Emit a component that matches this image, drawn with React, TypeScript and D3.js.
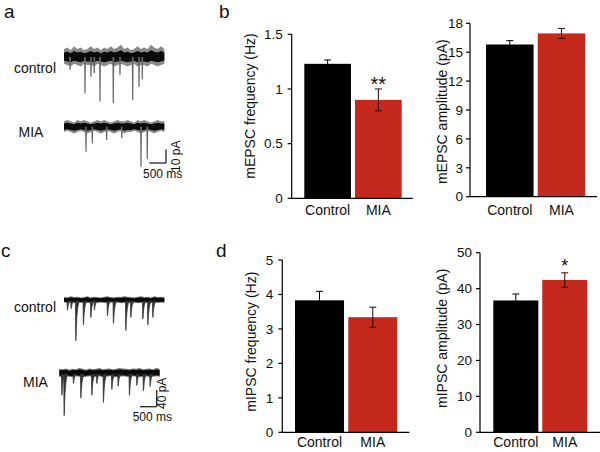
import React from "react";
import * as d3 from "d3";

// ---------- DATA ----------
const categories = ["Control", "MIA"];

const mepscFreq = [1.23, 0.9];
const mepscFreqErr = [0.035, 0.1];
const mepscAmp = [15.8, 16.95];
const mepscAmpErr = [0.4, 0.52];
const mipscFreq = [3.83, 3.34];
const mipscFreqErr = [0.26, 0.29];
const mipscAmp = [36.7, 42.4];
const mipscAmpErr = [1.8, 2.0];

const ticksMepscFreq = [0, 0.5, 1, 1.5];
const ticksMepscAmp = [0, 3, 6, 9, 12, 15, 18];
const ticksMipscFreq = [0, 1, 2, 3, 4, 5];
const ticksMipscAmp = [0, 10, 20, 30, 40, 50];

// trace noise envelope sample times (ms)
const envTimes = [0, 100, 200, 300, 400, 500, 600, 700, 800, 900, 1000, 1100, 1200, 1300, 1400, 1500, 1600, 1700, 1800, 1900, 2000, 2100, 2200, 2300, 2400, 2500, 2600, 2700, 2800, 2900, 3000];
const aCtrlHi = [6, 7, 5, 8, 6, 7, 5, 6, 8, 6, 7, 5, 7, 6, 8, 6, 7, 9, 6, 7, 5, 6, 8, 6, 7, 6, 9, 7, 6, 8, 6];
const aCtrlLo = [-5, -6, -7, -5, -6, -7, -5, -6, -6, -7, -5, -6, -7, -6, -5, -7, -6, -5, -6, -7, -6, -5, -7, -6, -6, -7, -5, -6, -7, -6, -5];
const aMiaHi = [4, 5, 4, 3, 5, 4, 5, 4, 3, 4, 5, 4, 5, 4, 3, 4, 5, 4, 4, 5, 4, 3, 5, 4, 5, 4, 3, 4, 5, 4, 4];
const aMiaLo = [-4, -3, -4, -5, -4, -3, -4, -5, -4, -3, -4, -5, -4, -3, -4, -5, -4, -3, -5, -4, -4, -3, -4, -5, -4, -3, -4, -5, -4, -3, -4];
const cCtrlHi = [8, 6, 9, 7, 8, 6, 7, 9, 6, 8, 7, 6, 8, 9, 7, 6, 8, 7, 9, 8, 7, 6, 8, 9, 7, 8, 6, 9, 7, 8, 7];
const cCtrlLo = [-6, -7, -6, -8, -6, -7, -6, -7, -8, -6, -7, -6, -7, -8, -6, -7, -6, -8, -7, -6, -7, -6, -8, -7, -6, -7, -8, -6, -7, -6, -7];
const cMiaHi = [10, 9, 11, 8, 10, 9, 12, 10, 8, 11, 9, 10, 12, 9, 10, 11, 9, 10, 12, 11, 10, 9, 11, 10, 12, 9, 10, 11, 9, 12, 10];
const cMiaLo = [-9, -10, -8, -9, -10, -8, -9, -10, -9, -8, -10, -9, -8, -10, -9, -8, -9, -10, -9, -8, -9, -10, -8, -9, -10, -9, -8, -10, -9, -8, -9];

// events: [time ms, amplitude pA]
const aCtrlEvents = [[179, -9.6], [628, -27], [807, -14.6], [906, -11.9], [1076, -33], [1474, -34], [1674, -13.3], [2054, -32], [2243, -22], [2341, -16.5]];
const aMiaEvents = [[658, -18.5], [846, -12.3], [1277, -9.9], [1726, -8.4], [2302, -29.6], [2490, -24.2]];
const cCtrlEvents = [[99, -28], [209, -24], [350, -112], [577, -68], [798, -48], [906, -28], [1295, -44], [1474, -64], [1845, -84], [1994, -48], [2353, -52], [2503, -68], [2652, -48]];
const cMiaEvents = [[72, -61], [141, -117], [419, -29], [640, -69], [969, -61], [1118, -29], [1316, -81], [1567, -45], [1755, -36], [2093, -61], [2314, -34], [2512, -49], [2712, -37]];

const FONT = "'Liberation Sans', Arial, Helvetica, sans-serif";
const RED = "#c5281d";

// ---------- BAR PANEL ----------
function BarPanel(p: any) {
  const y = d3.scaleLinear().domain(p.domain).range([p.yBot, p.yTop]);
  const x = d3.scaleBand().domain(categories).range(p.barRange).paddingInner(0.08).paddingOuter(0);
  const colors = ["#000", RED];
  return (
    <g fontFamily={FONT}>
      {p.values.map((v: number, i: number) => {
        const c = categories[i];
        const x0 = x(c)!;
        const cx = x0 + x.bandwidth() / 2;
        const e = p.errs[i];
        const ec = i === 0 ? "#000" : "#2a0a06";
        return (
          <g key={c}>
            <rect x={x0} y={y(v)} width={x.bandwidth()} height={y(0) - y(v)} fill={colors[i]} />
            <line x1={cx} x2={cx} y1={y(v - e)} y2={y(v + e)} stroke={ec} strokeWidth={1} />
            <line x1={cx - 3.5} x2={cx + 3.5} y1={y(v + e)} y2={y(v + e)} stroke={ec} strokeWidth={1} />
            <line x1={cx - 3.5} x2={cx + 3.5} y1={y(v - e)} y2={y(v - e)} stroke={ec} strokeWidth={1} />
            <text x={cx} y={p.catY} textAnchor="middle" fontSize={14} fill="#111">{c}</text>
            {p.sig && p.sig[i] ? (
              <text x={cx} y={p.sigY} textAnchor="middle" fontSize={p.sigSize} fill="#111">{p.sig[i]}</text>
            ) : null}
          </g>
        );
      })}
      <line x1={p.axisX} x2={p.axisX} y1={p.yTop} y2={p.yBot} stroke="#000" strokeWidth={1.2} />
      <line x1={p.axisX} x2={p.xEnd} y1={p.yBot} y2={p.yBot} stroke="#000" strokeWidth={1.2} />
      {p.ticks.map((t: number) => (
        <g key={t}>
          <line x1={p.axisX - 4} x2={p.axisX} y1={y(t)} y2={y(t)} stroke="#000" strokeWidth={1.2} />
          <text x={p.axisX - p.tickPad} y={y(t)} dy="0.35em" textAnchor="end" fontSize={13.5} fill="#111">
            {d3.format("~g")(t)}
          </text>
        </g>
      ))}
      <text transform={`translate(${p.labelX},${p.labelY}) rotate(-90)`} textAnchor="middle" dy="0.35em" fontSize={14} fill="#111">
        {p.label}
      </text>
    </g>
  );
}

// ---------- TRACE ----------
function Trace(p: any) {
  const x = d3.scaleLinear().domain([0, 3050]).range([p.x0, p.x0 + 102]);
  const y = d3.scaleLinear().domain([0, -10]).range([p.base, p.base + 10 * p.k]);
  const pts = envTimes.map((t, i) => ({ t, hi: p.hi[i], lo: p.lo[i] }));
  const outer = d3.area<any>().x((d) => x(d.t)).y0((d) => y(d.lo)).y1((d) => y(d.hi)).curve(d3.curveLinear);
  const core = d3.area<any>().x((d) => x(d.t)).y0((d) => y(d.lo * p.coreFrac)).y1((d) => y(d.hi * p.coreFrac)).curve(d3.curveLinear);
  const line = d3.line<any>().x((d) => x(d[0])).y((d) => y(d[1])).curve(p.slow ? d3.curveBasis : d3.curveLinear);
  return (
    <g>
      <path d={outer(pts)!} fill={p.outerFill} />
      <path d={core(pts)!} fill="#0a0a0a" />
      {p.events.map((ev: number[], i: number) => {
        const [t, a] = ev;
        const shape = p.slow
          ? [[t - 8, -3], [t, a * 0.7], [t + 4, a], [t + 20, a * 0.5], [t + 55, a * 0.15], [t + 110, -2]]
          : [[t - 8, 0], [t, a], [t + 10, 0]];
        return <path key={i} d={line(shape as any)!} fill={p.slow ? "#333" : "none"} stroke={p.slow ? "#333" : "#666"} strokeWidth={p.slow ? 0.8 : 1.2} />;
      })}
    </g>
  );
}

function ScaleBar(p: any) {
  const x = d3.scaleLinear().domain([0, 3050]).range([0, 102]);
  const len = x(500);
  const h = p.pa * p.k;
  return (
    <g fontFamily={FONT} fill="#111">
      <line x1={p.x} x2={p.x} y1={p.y - h} y2={p.y} stroke="#222" strokeWidth={1.3} />
      <line x1={p.x - len} x2={p.x} y1={p.y} y2={p.y} stroke="#222" strokeWidth={1.3} />
      <text transform={`translate(${p.x + p.vdx},${p.y - h / 2 + p.vdy}) rotate(-90)`} textAnchor="middle" dy="0.35em" fontSize={12}>
        {p.pa} pA
      </text>
      <text x={p.x - len / 2 + p.hdx} y={p.y + 14.5} textAnchor="middle" fontSize={12}>500 ms</text>
    </g>
  );
}

export default function App() {
  return (
    <svg width={600} height={452} style={{ position: "absolute", left: 0, top: 0, background: "#fff" }}>
      <rect width={600} height={452} fill="#fff" />
      {/* panel letters */}
      <g fontFamily={FONT} fontSize={19} fill="#111">
        <text x={4} y={18}>a</text>
        <text x={219} y={18}>b</text>
        <text x={1} y={257}>c</text>
        <text x={216} y={257}>d</text>
      </g>
      <g fontFamily={FONT} fontSize={14} fill="#111">
        <text x={14} y={72.5}>control</text>
        <text x={18.5} y={136.5}>MIA</text>
        <text x={14} y={312}>control</text>
        <text x={23} y={386.5}>MIA</text>
      </g>

      {/* traces */}
      <Trace x0={64} base={57} k={1.35} hi={aCtrlHi} lo={aCtrlLo} events={aCtrlEvents} outerFill="#8a8a8a" coreFrac={0.55} />
      <Trace x0={64} base={126.7} k={1.35} hi={aMiaHi} lo={aMiaLo} events={aMiaEvents} outerFill="#8a8a8a" coreFrac={0.6} />
      <ScaleBar x={166} y={163} pa={10} k={1.35} vdx={10} vdy={0} hdx={5} />
      <Trace x0={64} base={300} k={0.417} hi={cCtrlHi} lo={cCtrlLo} events={cCtrlEvents} slow outerFill="#777" coreFrac={0.7} />
      <Trace x0={59.3} base={373} k={0.417} hi={cMiaHi} lo={cMiaLo} events={cMiaEvents} slow outerFill="#777" coreFrac={0.7} />
      <ScaleBar x={156.7} y={406.7} pa={40} k={0.417} vdx={5.5} vdy={-5} hdx={4} />

      <BarPanel values={mepscFreq} errs={mepscFreqErr} domain={[0, 1.5]} ticks={ticksMepscFreq}
        axisX={291.7} yTop={34.3} yBot={198.3} xEnd={412.7} barRange={[304.3, 401.7]}
        tickPad={9} label="mEPSC frequency (Hz)" labelX={250} labelY={106} catY={215}
        sig={[null, "**"]} sigY={91} sigSize={20} />
      <BarPanel values={mepscAmp} errs={mepscAmpErr} domain={[0, 18]} ticks={ticksMepscAmp}
        axisX={470} yTop={23.3} yBot={196.7} xEnd={597} barRange={[486, 585.3]}
        tickPad={7} label="mEPSC amplitude (pA)" labelX={441.7} labelY={111.7} catY={215} />
      <BarPanel values={mipscFreq} errs={mipscFreqErr} domain={[0, 5]} ticks={ticksMipscFreq}
        axisX={282.3} yTop={260} yBot={432.3} xEnd={409.3} barRange={[295, 397.3]}
        tickPad={9} label="mIPSC frequency (Hz)" labelX={251.5} labelY={341.7} catY={447} />
      <BarPanel values={mipscAmp} errs={mipscAmpErr} domain={[0, 50]} ticks={ticksMipscAmp}
        axisX={480} yTop={252.7} yBot={432.3} xEnd={600} barRange={[493.3, 587.3]}
        tickPad={8} label="mIPSC amplitude (pA)" labelX={442.5} labelY={338.3} catY={447}
        sig={[null, "*"]} sigY={272} sigSize={18} />
    </svg>
  );
}
